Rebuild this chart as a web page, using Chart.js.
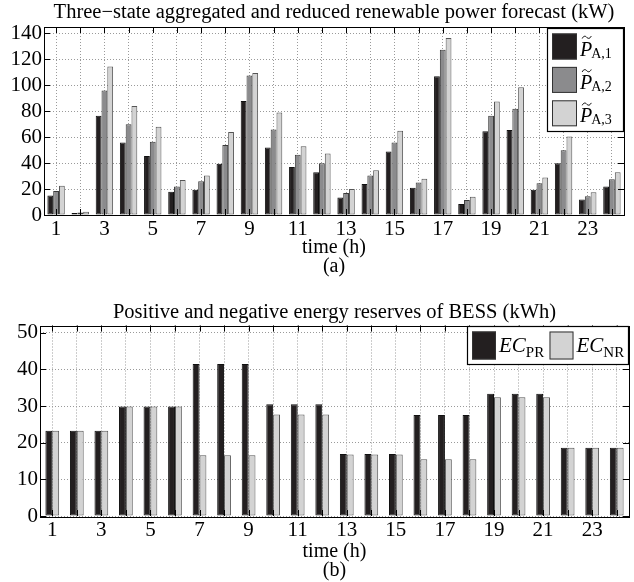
<!DOCTYPE html>
<html>
<head>
<meta charset="utf-8">
<script src="https://cdn.jsdelivr.net/npm/chart.js@4.4.0/dist/chart.umd.min.js"></script>
<style>
    body { margin: 0; background: #fff; }
    .box { position: absolute; left: 0; width: 634px; }
</style>
</head>
<body>
<div class="box" style="top:0;height:278px"><canvas id="forecastChart"></canvas></div>
<div class="box" style="top:290px;height:292px"><canvas id="reserveChart"></canvas></div>
<script>
var hours = ['1', '2', '3', '4', '5', '6', '7', '8', '9', '10', '11', '12',
    '13', '14', '15', '16', '17', '18', '19', '20', '21', '22', '23', '24'];

// (a) forecast, kW
var forecastLabels = ['P\u0303_A,1', 'P\u0303_A,2', 'P\u0303_A,3'];
var forecastA1 = [15, 1.5, 76.5, 56, 45.5, 18, 19.5, 39.5, 88, 52, 37, 33, 13.5, 24, 49, 21, 107, 8.5, 64.5, 65.5, 19.5, 40, 12, 22];
var forecastA2 = [18.5, 2, 96, 70, 56.5, 22, 26, 54, 107.5, 66, 46.5, 40, 17, 30.5, 56, 25, 127.5, 11.5, 76.5, 82, 24.5, 50, 14.5, 27.5];
var forecastA3 = [22.5, 2.5, 114.5, 84, 68, 27, 30.5, 64, 109.5, 79, 53, 47.5, 20, 34.5, 65, 28, 136.5, 14, 87.5, 98.5, 29, 60.5, 17.5, 33];
var forecastTicks = [0, 20, 40, 60, 80, 100, 120, 140];

// (b) reserves, kWh
var reserveLabels = ['EC_PR', 'EC_NR'];
var reservePR = [23.3, 23.3, 23.3, 29.9, 29.9, 29.9, 41.5, 41.5, 41.5, 30.5, 30.5, 30.5,
    16.9, 16.9, 16.9, 27.6, 27.6, 27.6, 33.4, 33.4, 33.4, 18.6, 18.6, 18.6];
var reserveNR = [23.3, 23.3, 23.3, 29.9, 29.9, 29.9, 16.6, 16.6, 16.6, 27.7, 27.7, 27.7,
    16.8, 16.8, 16.8, 15.5, 15.5, 15.5, 32.4, 32.4, 32.4, 18.6, 18.6, 18.6];
var reserveTicks = [0, 10, 20, 30, 40, 50];

var SERIF = 'Liberation Serif';
var black = '#231f20', gray = '#8b8b8d', light = '#d3d3d3';

// frame + inward tick marks on all four sides
var framePlugin = {
    id: 'frame',
    afterDraw: function (chart) {
        var ctx = chart.ctx, a = chart.chartArea;
        var xs = chart.scales.x, ys = chart.scales.y;
        var len = 6;
        ctx.save();
        ctx.strokeStyle = '#000';
        ctx.lineWidth = 1;
        ctx.beginPath();
        xs.ticks.forEach(function (t, i) {
            var px = Math.round(xs.getPixelForTick(i)) + 0.5;
            ctx.moveTo(px, a.bottom); ctx.lineTo(px, a.bottom - len);
            ctx.moveTo(px, a.top); ctx.lineTo(px, a.top + len);
        });
        ys.ticks.forEach(function (t, i) {
            var py = Math.round(ys.getPixelForTick(i)) + 0.5;
            ctx.moveTo(a.left, py); ctx.lineTo(a.left + len, py);
            ctx.moveTo(a.right, py); ctx.lineTo(a.right - len, py);
        });
        ctx.stroke();
        ctx.strokeRect(Math.round(a.left) + 0.5, Math.round(a.top) + 0.5,
            Math.round(a.right - a.left), Math.round(a.bottom - a.top));
        ctx.restore();
    }
};

// legend box drawn inside the plot, labels written as base_sub
var legendPlugin = {
    id: 'boxLegend',
    afterDraw: function (chart, args, o) {
        if (!o || !o.display) return;
        var ctx = chart.ctx, a = chart.chartArea;
        var x0 = a.right - o.width, y0 = a.top + o.top;
        ctx.save();
        ctx.fillStyle = '#fff';
        ctx.fillRect(x0, y0, o.width, o.height);
        ctx.strokeStyle = '#000';
        ctx.lineWidth = 1.2;
        ctx.strokeRect(x0 + 0.5, y0 + 0.5, o.width - 1, o.height - 1);
        chart.data.datasets.forEach(function (ds, i) {
            var sx = x0 + o.padX + (o.horizontal ? i * o.stepX : 0);
            var sy = y0 + o.padY + (o.horizontal ? 0 : i * o.stepY);
            ctx.fillStyle = ds.backgroundColor;
            ctx.fillRect(sx, sy, o.boxW, o.boxH);
            ctx.strokeStyle = '#333';
            ctx.lineWidth = 1;
            ctx.strokeRect(sx + 0.5, sy + 0.5, o.boxW - 1, o.boxH - 1);
            var parts = ds.label.split('_');
            var main = parts[0], sub = parts[1] || '';
            var tilde = main.indexOf('\u0303') >= 0;
            main = main.replace('\u0303', '');
            var tx = sx + o.boxW + o.gap, ty = sy + o.baseline;
            ctx.fillStyle = '#000';
            ctx.textBaseline = 'alphabetic';
            ctx.textAlign = 'left';
            ctx.font = 'italic ' + o.mainSize + 'px "' + SERIF + '"';
            ctx.fillText(main, tx, ty);
            var w = ctx.measureText(main).width;
            if (tilde) {
                // small wave above the italic letter
                var cx = tx + w * 0.55, cy = ty - o.mainSize * 0.66 - 5;
                ctx.strokeStyle = '#000';
                ctx.lineWidth = 1;
                ctx.beginPath();
                ctx.moveTo(cx - 4.5, cy + 1.2);
                ctx.bezierCurveTo(cx - 3, cy - 2, cx - 1, cy - 1.2, cx, cy);
                ctx.bezierCurveTo(cx + 1, cy + 1.2, cx + 3, cy + 2, cx + 4.5, cy - 1.2);
                ctx.stroke();
            }
            ctx.font = o.subSize + 'px "' + SERIF + '"';
            ctx.fillText(sub, tx + w + o.subGap, ty + o.subDrop);
        });
        ctx.restore();
    }
};

function makeXAxis(height, titleLines) {
    return {
        grid: { offset: false, color: '#9a9a9a', drawTicks: false, lineWidth: 1 },
        border: { display: false, dash: [1, 2] },
        ticks: {
            autoSkip: false, maxRotation: 0, padding: 2, color: '#000',
            font: { family: SERIF, size: 21 },
            callback: function (v, i) { return i % 2 === 0 ? this.getLabelForValue(v) : ''; }
        },
        title: {
            display: true, text: titleLines, color: '#000',
            font: { family: SERIF, size: 20, lineHeight: 0.95 },
            padding: { top: 0, bottom: 2 }
        },
        afterFit: function (scale) { scale.height = height; }
    };
}

// empty top axis that only carries the title, so it centres over the plot
function makeTitleAxis(height, text, padTop) {
    return {
        position: 'top',
        grid: { display: false },
        border: { display: false },
        ticks: { display: false },
        title: {
            display: true, text: text, color: '#000',
            font: { family: SERIF, size: 20.5, lineHeight: 1.05 },
            padding: { top: padTop, bottom: 0 }
        },
        afterFit: function (scale) { scale.height = height; }
    };
}

function makeYAxis(max, tickList, width) {
    return {
        min: 0, max: max,
        grid: { color: '#9a9a9a', drawTicks: false, lineWidth: 1 },
        border: { display: false, dash: [1, 2] },
        ticks: { autoSkip: false, padding: 2, color: '#000', font: { family: SERIF, size: 21 } },
        afterBuildTicks: function (scale) {
            scale.ticks = tickList.map(function (v) { return { value: v }; });
        },
        afterFit: function (scale) { scale.width = width; }
    };
}

function barSet(label, data, fill, edge) {
    return {
        label: label, data: data, backgroundColor: fill, borderColor: edge,
        borderWidth: 1, borderSkipped: false, xAxisID: 'x'
    };
}

new Chart(document.getElementById('forecastChart').getContext('2d'), {
    type: 'bar',
    data: {
        labels: hours,
        datasets: [
            barSet(forecastLabels[0], forecastA1, black, '#111'),
            barSet(forecastLabels[1], forecastA2, gray, '#3a3a3a'),
            barSet(forecastLabels[2], forecastA3, light, '#555')
        ]
    },
    options: {
        responsive: true, maintainAspectRatio: false, animation: false,
        layout: { padding: { left: 0, right: 10, top: 0, bottom: 0 } },
        datasets: { bar: { categoryPercentage: 0.72, barPercentage: 1 } },
        plugins: {
            legend: { display: false },
            tooltip: { enabled: false },
            title: { display: false },
            boxLegend: {
                display: true, horizontal: false, width: 77, height: 104, top: 1,
                padX: 5, padY: 5.5, stepY: 33.4, boxW: 25, boxH: 26, gap: 3,
                baseline: 22, mainSize: 20, subSize: 14, subGap: -1, subDrop: 2
            }
        },
        scales: {
            x: makeXAxis(63, ['time (h)', '(a)']),
            x2: makeTitleAxis(27, 'Three\u2212state aggregated and reduced renewable power forecast (kW)', 1.5),
            y: makeYAxis(145, forecastTicks, 44)
        }
    },
    plugins: [framePlugin, legendPlugin]
});

new Chart(document.getElementById('reserveChart').getContext('2d'), {
    type: 'bar',
    data: {
        labels: hours,
        datasets: [
            barSet(reserveLabels[0], reservePR, black, '#111'),
            barSet(reserveLabels[1], reserveNR, light, '#555')
        ]
    },
    options: {
        responsive: true, maintainAspectRatio: false, animation: false,
        layout: { padding: { left: 0, right: 5, top: 0, bottom: 0 } },
        datasets: { bar: { categoryPercentage: 0.56, barPercentage: 1 } },
        plugins: {
            legend: { display: false },
            tooltip: { enabled: false },
            title: { display: false },
            boxLegend: {
                display: true, horizontal: true, width: 162, height: 39, top: 0.5,
                padX: 5, padY: 5.5, stepX: 77.5, boxW: 24, boxH: 28, gap: 3,
                baseline: 20, mainSize: 21, subSize: 15, subGap: 0, subDrop: 5
            }
        },
        scales: {
            x: makeXAxis(66, ['time (h)', '(b)']),
            x2: makeTitleAxis(35.5, 'Positive and negative energy reserves of BESS (kWh)', 12),
            y: makeYAxis(52, reserveTicks, 40)
        }
    },
    plugins: [framePlugin, legendPlugin]
});
</script>
</body>
</html>
